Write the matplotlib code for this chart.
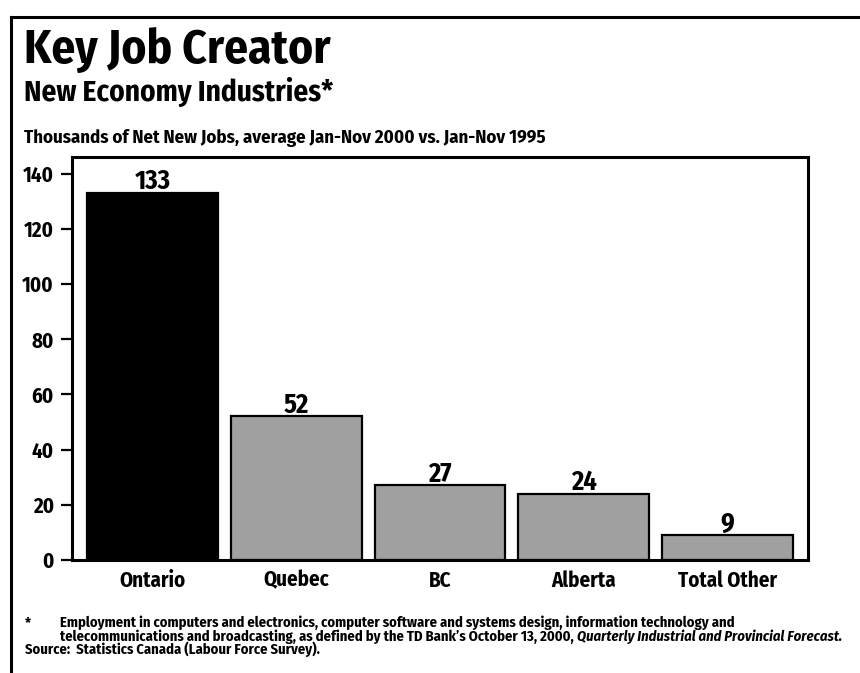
import matplotlib
matplotlib.use('Agg')
import matplotlib.pyplot as plt
import matplotlib.lines as mlines

regions = ['Ontario', 'Quebec', 'BC', 'Alberta', 'Total Other']
jobs = [133, 52, 27, 24, 9]
bar_colors = ['#000000', '#a0a0a0', '#a0a0a0', '#a0a0a0', '#a0a0a0']
yticks = [0, 20, 40, 60, 80, 100, 120, 140]

title = 'Key Job Creator'
subtitle = 'New Economy Industries*'
units = 'Thousands of Net New Jobs, average Jan-Nov 2000 vs. Jan-Nov 1995'
note1 = 'Employment in computers and electronics, computer software and systems design, information technology and'
note2 = 'telecommunications and broadcasting, as defined by the TD Bank\u2019s October 13, 2000, '
note2_it = 'Quarterly Industrial and Provincial Forecast.'
source = 'Source:  Statistics Canada (Labour Force Survey).'

plt.rcParams['font.family'] = ['Fira Sans Condensed', 'DejaVu Sans']
plt.rcParams['font.weight'] = 'bold'

W, H = 860, 673
fig = plt.figure(figsize=(8.6, 6.73), dpi=100)
ax = fig.add_axes([72 / W, 1 - 560 / H, (808 - 72) / W, (560 - 157) / H])

ax.bar(range(len(regions)), jobs, width=0.91, color=bar_colors,
       edgecolor='black', linewidth=1.6, zorder=2)
for i, v in enumerate(jobs):
    ax.annotate(str(v), (i, v), xytext=(0, -1.5), textcoords='offset points',
                ha='center', va='bottom', fontsize=19, fontweight='bold')

ax.set_xlim(-0.56, len(regions) - 1 + 0.56)
ax.set_ylim(0, 146)
ax.set_yticks(yticks)
ax.set_xticks(range(len(regions)))
ax.set_xticklabels(regions)
ax.tick_params(axis='y', length=8, width=1.6, labelsize=15, pad=5)
ax.tick_params(axis='x', length=0, labelsize=15, pad=7)
for sp in ax.spines.values():
    sp.set_linewidth(2.2)

# outer frame of the panel
fig.add_artist(mlines.Line2D([10.5 / W, 10.5 / W], [0, 1 - 16.5 / H],
                             transform=fig.transFigure, color='black', lw=2.2))
fig.add_artist(mlines.Line2D([10.5 / W, 1], [1 - 16.5 / H, 1 - 16.5 / H],
                             transform=fig.transFigure, color='black', lw=2.2))

fig.text(24 / W, 1 - 63 / H, title, fontsize=34, fontweight='bold', va='baseline')
fig.text(24 / W, 1 - 101 / H, subtitle, fontsize=21, fontweight='bold', va='baseline')
fig.text(24 / W, 1 - 143 / H, units, fontsize=13.5, fontweight='bold', va='baseline')

fs = 10.5
fig.text(25 / W, 1 - 627 / H, '*', fontsize=fs, fontweight='bold', va='baseline')
fig.text(60 / W, 1 - 627 / H, note1, fontsize=fs, fontweight='bold', va='baseline')
t2 = fig.text(60 / W, 1 - 640.5 / H, note2, fontsize=fs, fontweight='bold', va='baseline')
fig.text(25 / W, 1 - 654 / H, source, fontsize=fs, fontweight='bold', va='baseline')

# italic publication title continues the second footnote line
fig.canvas.draw()
bb = t2.get_window_extent()
fig.text(bb.x1 / W, 1 - 640.5 / H, note2_it, fontsize=fs, fontweight='bold',
         style='italic', va='baseline')

fig.savefig('out.png', dpi=100)
